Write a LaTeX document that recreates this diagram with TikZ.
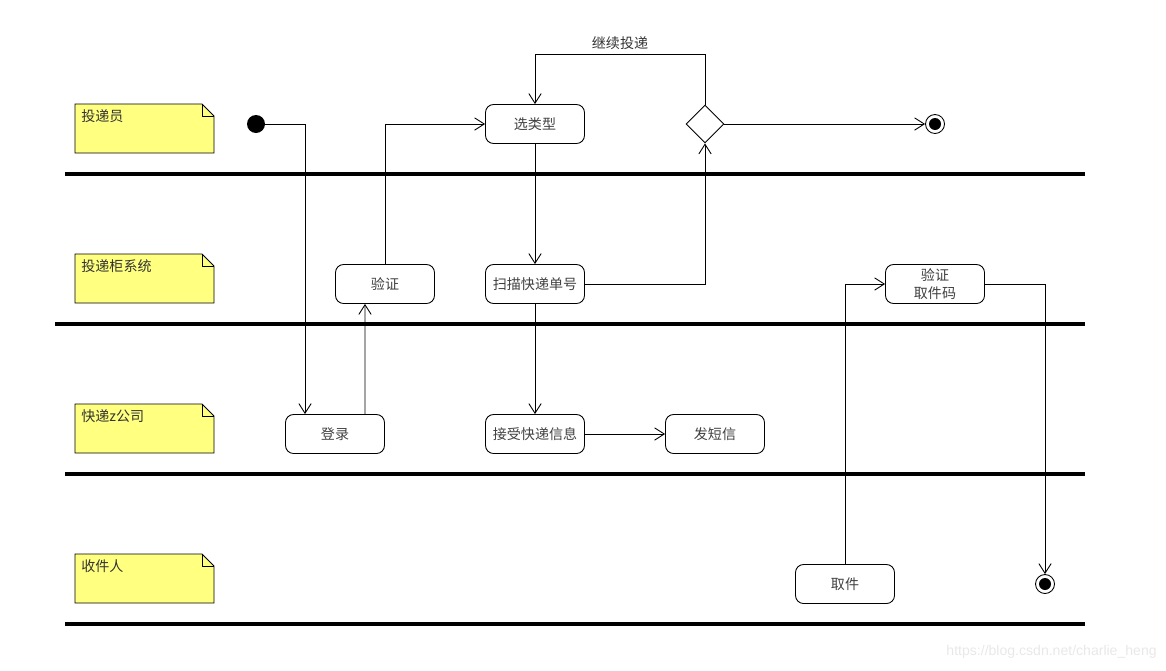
\documentclass[tikz,border=0pt]{standalone}
\usepackage{fontspec}
\newfontfamily\cjk{Noto Sans CJK SC}
\newfontfamily\wmfont{Liberation Sans}
\usetikzlibrary{arrows.meta,shapes.geometric}
\definecolor{noteyellow}{RGB}{255,255,128}

\tikzset{
  act/.style={draw, line width=0.5pt, rounded corners=0.16cm,
    minimum width=1.98cm, minimum height=0.78cm, inner sep=0pt,
    align=center, text=black!75, font=\cjk\fontsize{8}{10}\selectfont},
  flow/.style={line width=0.5pt, -{Straight Barb[length=5.5pt,width=7pt]}},
  lane/.style={line width=2.8pt},
  notebox/.style={draw, line width=0.5pt, fill=noteyellow},
  notetext/.style={anchor=north west, inner sep=0pt, text=black!80,
    font=\cjk\fontsize{8}{10}\selectfont},
  initial/.style={circle, fill, minimum size=0.36cm, inner sep=0pt},
  final/.style={circle, draw, line width=0.5pt, minimum size=0.38cm, inner sep=0pt}
}

\begin{document}
\begin{tikzpicture}[x=0.02cm, y=-0.02cm]
      \useasboundingbox (0,0) rectangle (1166,670);
      % swimlane separators
      \draw [lane] (65,174) -- (1085,174);
      \draw [lane] (55,324) -- (1085,324);
      \draw [lane] (65,474) -- (1085,474);
      \draw [lane] (65,624) -- (1085,624);
      % lane notes
      \begin{scope}[shift={(75,104)}]
        \draw [notebox] (0,0) -- (127,0) -- (139,12) -- (139,49) -- (0,49) -- cycle;
        \draw [line width=0.5pt] (127,0) -- (127,12) -- (139,12);
        \node [notetext] (lane1) at (6,5) {投递员};
      \end{scope}
      \begin{scope}[shift={(75,254)}]
        \draw [notebox] (0,0) -- (127,0) -- (139,12) -- (139,49) -- (0,49) -- cycle;
        \draw [line width=0.5pt] (127,0) -- (127,12) -- (139,12);
        \node [notetext] (lane2) at (6,5) {投递柜系统};
      \end{scope}
      \begin{scope}[shift={(75,404)}]
        \draw [notebox] (0,0) -- (127,0) -- (139,12) -- (139,49) -- (0,49) -- cycle;
        \draw [line width=0.5pt] (127,0) -- (127,12) -- (139,12);
        \node [notetext] (lane3) at (6,5) {快递z公司};
      \end{scope}
      \begin{scope}[shift={(75,554)}]
        \draw [notebox] (0,0) -- (127,0) -- (139,12) -- (139,49) -- (0,49) -- cycle;
        \draw [line width=0.5pt] (127,0) -- (127,12) -- (139,12);
        \node [notetext] (lane4) at (6,5) {收件人};
      \end{scope}
      % activities
      \node [initial] (start) at (256,124) {};
      \node [act] (xuanlei) at (535,124) {选类型};
      \node [draw, diamond, line width=0.5pt, minimum size=0.76cm, inner sep=0pt] (choice) at (705,124) {};
      \node [final] (end1) at (935,124) {};
      \fill (end1) circle (0.12cm);
      \node [act] (yanzheng) at (385,284) {验证};
      \node [act] (saomiao) at (535,284) {扫描快递单号};
      \node [act] (yanzhengma) at (935,284) {验证\\取件码};
      \node [act] (denglu) at (335,434) {登录};
      \node [act] (jieshou) at (535,434) {接受快递信息};
      \node [act] (faduanxin) at (715,434) {发短信};
      \node [act] (qujian) at (845,584) {取件};
      \node [final] (end2) at (1045,584) {};
      \fill (end2) circle (0.12cm);
      \coordinate (loop) at (705,54);
      % flows
      \draw [flow] (start) -| ([xshift=-0.6cm]denglu.north);
      \draw [flow] ([xshift=0.6cm]denglu.north) -- ([xshift=-0.4cm]yanzheng.south);
      \draw [flow] (yanzheng.north) |- (xuanlei.west);
      \draw [flow] (xuanlei) -- (saomiao);
      \draw [flow] (saomiao.east) -| (choice.south);
      \draw [flow] (choice.north) -- (loop) -| node [pos=0.25, above, inner sep=2pt, text=black!80,
        font=\cjk\fontsize{8}{10}\selectfont] (looplabel) {继续投递} (xuanlei.north);
      \draw [flow] (choice) -- (end1);
      \draw [flow] (saomiao) -- (jieshou);
      \draw [flow] (jieshou) -- (faduanxin);
      \draw [flow] (qujian) |- (yanzhengma.west);
      \draw [flow] (yanzhengma.east) -| (end2);
      % watermark
      \node [anchor=east, inner sep=0pt, text=black!9, font=\wmfont\fontsize{8}{10}\selectfont]
        (mark) at (1157,652) {https://blog.csdn.net/charlie\_heng};
\end{tikzpicture}
\end{document}
